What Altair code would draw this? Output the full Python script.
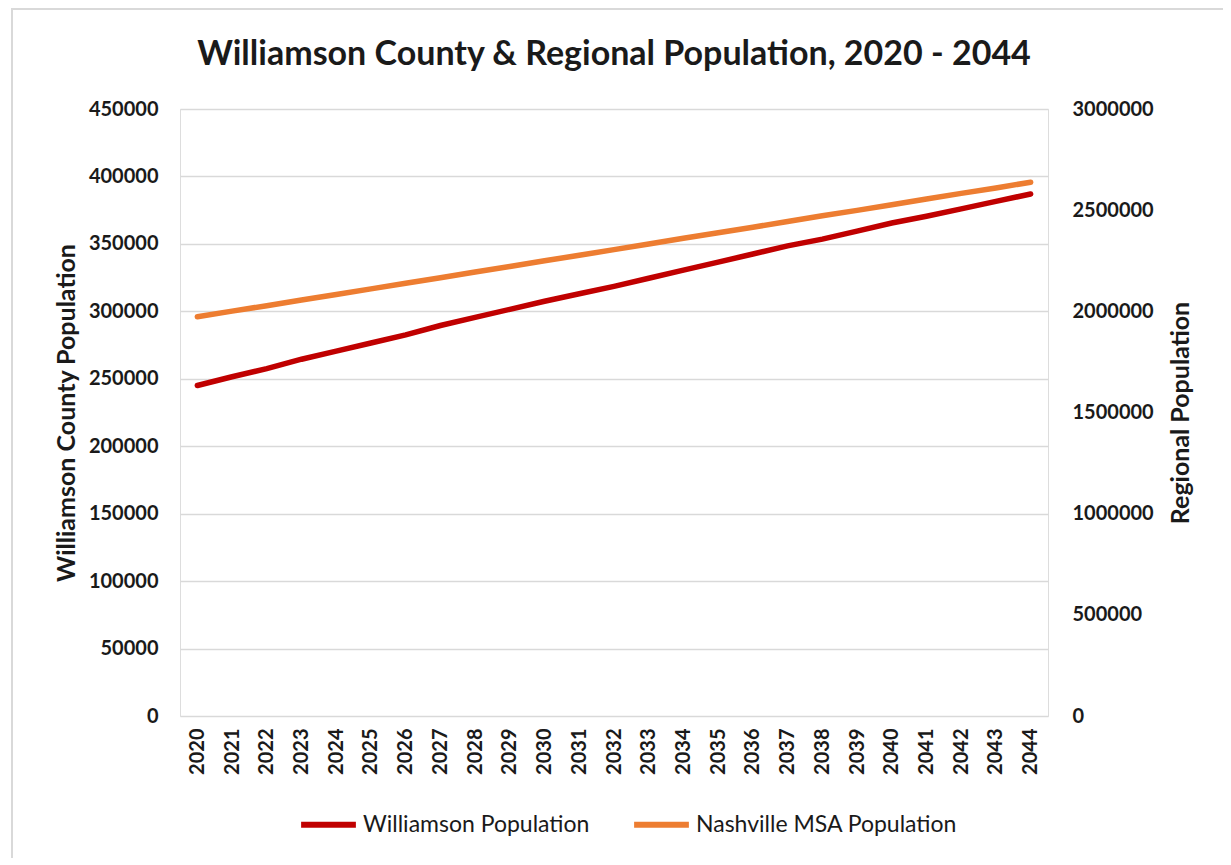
import altair as alt
import pandas as pd

years = [str(y) for y in range(2020, 2045)]
williamson = [245000, 251500, 257500, 264500, 270500, 276500, 282500, 289500, 295500,
              301500, 307500, 313000, 318500, 324500, 330500, 336500, 342500, 348500,
              353500, 359500, 365500, 370500, 376000, 381500, 387000]
nashville = [1973000, 2001000, 2028000, 2056000, 2083000, 2111000, 2139000, 2166000,
             2194000, 2222000, 2250000, 2277000, 2305000, 2333000, 2361000, 2388000,
             2416000, 2444000, 2472000, 2499000, 2527000, 2555000, 2583000, 2610000,
             2638000]
series_names = ["Williamson Population", "Nashville MSA Population"]
series_colors = ["#C00000", "#ED7D31"]
left_ticks = list(range(0, 450001, 50000))
right_ticks = list(range(0, 3000001, 500000))

rows = []
for y, w, n in zip(years, williamson, nashville):
    rows.append({"year": y, "series": series_names[0], "w": w, "n": None})
    rows.append({"year": y, "series": series_names[1], "w": None, "n": n})
df = pd.DataFrame(rows)

FONT = "Lato"
TXT = "#1a1a1a"

color = alt.Color(
    "series:N",
    scale=alt.Scale(domain=series_names, range=series_colors),
    sort=series_names,
    legend=alt.Legend(
        title=None, orient="none", legendX=118, legendY=685, direction="horizontal",
        symbolType="stroke", symbolStrokeWidth=6, symbolSize=3000,
        labelFont=FONT, labelFontSize=23, labelColor=TXT, labelOffset=4,
        labelLimit=400, columnPadding=32,
    ),
)

xenc = alt.X(
    "year:O",
    title=None,
    axis=alt.Axis(labelAngle=270, labelFont=FONT, labelFontSize=20, labelFontWeight="bold",
                  labelColor=TXT, labelPadding=12, ticks=False, domain=False, grid=False),
)

border = alt.Chart(pd.DataFrame({"k": [0]})).mark_rect(
    fill=None, stroke="#d9d9d9", strokeWidth=2
).encode(x=alt.value(-168), x2=alt.value(1047), y=alt.value(-100), y2=alt.value(750))

wline = alt.Chart(df).transform_filter(alt.datum.series == series_names[0]).mark_line(
    strokeWidth=5.5, strokeCap="round"
).encode(
    x=xenc,
    y=alt.Y("w:Q", scale=alt.Scale(domain=[0, 450000]),
            title="Williamson County Population",
            axis=alt.Axis(orient="left", values=left_ticks, format="d", grid=True,
                          gridColor="#d9d9d9", gridWidth=1.5, domain=False, ticks=False,
                          labelFont=FONT, labelFontSize=20, labelFontWeight="bold",
                          labelColor=TXT, labelPadding=22,
                          titleFont=FONT, titleFontSize=25, titleFontWeight="bold",
                          titleColor=TXT, titlePadding=9)),
    color=color,
)

nline = alt.Chart(df).transform_filter(alt.datum.series == series_names[1]).mark_line(
    strokeWidth=5.5, strokeCap="round"
).encode(
    x=xenc,
    y=alt.Y("n:Q", scale=alt.Scale(domain=[0, 3000000]),
            title="Regional Population",
            axis=alt.Axis(orient="right", values=right_ticks, format="d", grid=False,
                          domain=False, ticks=False,
                          labelFont=FONT, labelFontSize=20, labelFontWeight="bold",
                          labelColor=TXT, labelPadding=24,
                          titleFont=FONT, titleFontSize=25, titleFontWeight="bold",
                          titleColor=TXT, titlePadding=40, titleAngle=270)),
    color=color,
)

chart = alt.layer(border, wline, nline).resolve_scale(y="independent").properties(
    width=868, height=607,
    autosize=alt.AutoSizeParams(type="none"),
    padding={"left": 172, "top": 101, "right": 175, "bottom": 142},
    title=alt.Title("Williamson County & Regional Population, 2020 - 2044",
                    font=FONT, fontSize=34, fontWeight="bold", color=TXT,
                    anchor="middle", frame="group", offset=-64),
).configure_view(stroke=None).configure(background="white")

chart.save("out.html", embed_options={"renderer": "svg", "actions": False})
